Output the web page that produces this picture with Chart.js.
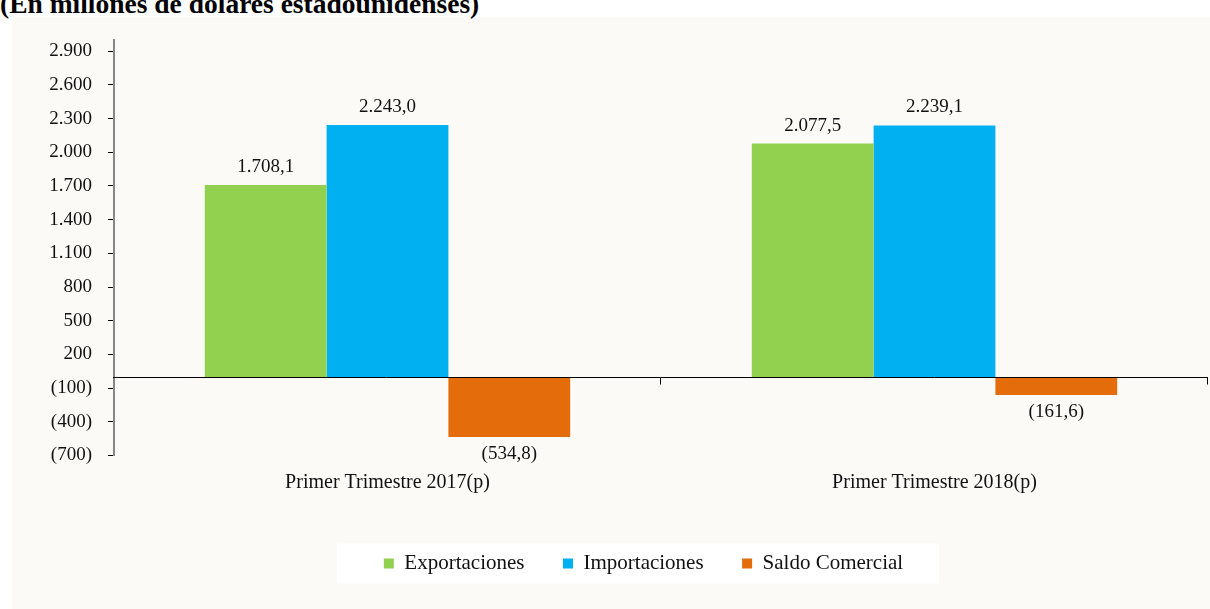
<!DOCTYPE html>
<html>
<head>
<meta charset="utf-8">
<script src="https://cdn.jsdelivr.net/npm/chart.js@4.4.1/dist/chart.umd.min.js"></script>
<style>
  html, body { margin: 0; padding: 0; background: #fff; overflow: hidden; }
  #wrap { position: relative; width: 1210px; height: 609px; }
  #bg { position: absolute; left: 12px; top: 17px; right: 0; bottom: 0; background: #fbfaf7; }
  #title { position: absolute; left: 0; top: -10px; font: bold 27.5px "Liberation Serif", serif; line-height: 27px; color: #000; white-space: nowrap; }
  #chart { position: absolute; left: 0; top: 0; }
</style>
</head>
<body>
<div id="wrap">
  <div id="bg"></div>
  <div id="title">(En millones de dólares estadounidenses)</div>
  <canvas id="chart" width="1210" height="609"></canvas>
</div>
<script>
// datos (millones de USD)
const categories = ['Primer Trimestre 2017(p)', 'Primer Trimestre 2018(p)'];
const exportaciones = [1708.1, 2077.5];
const importaciones = [2243.0, 2239.1];
const saldoComercial = [-534.8, -161.6];
const yTicks = [-700, -400, -100, 200, 500, 800, 1100, 1400, 1700, 2000, 2300, 2600, 2900];
const yMin = -700;
const yMax = 3000;

const serif = '"Liberation Serif", "Times New Roman", serif';

// formato español: 1.234,5 y negativos entre paréntesis
function fmt(v, dec) {
    const parts = Math.abs(v).toFixed(dec).split('.');
    let s = parts[0].replace(/\B(?=(\d{3})+(?!\d))/g, '.');
    if (parts[1]) s += ',' + parts[1];
    return v < 0 ? '(' + s + ')' : s;
}

// la leyenda va algo corrida a la derecha, como en el original
const legendShift = {
    id: 'legendShift',
    afterLayout(chart) {
        if (chart.legend) chart.legend.left += 79;
    }
};

// caja blanca de la leyenda
const legendBg = {
    id: 'legendBg',
    beforeDraw(chart) {
        const boxes = chart.legend && chart.legend.legendHitBoxes;
        if (!boxes || !boxes.length) return;
        const first = boxes[0], last = boxes[boxes.length - 1];
        const cy = first.top + first.height / 2;
        const ctx = chart.ctx;
        ctx.save();
        ctx.fillStyle = '#ffffff';
        ctx.fillRect(first.left - 47, cy - 20, (last.left + last.width + 36) - (first.left - 47), 40);
        ctx.restore();
    }
};

// linea del cero con marcas entre categorias
const zeroLine = {
    id: 'zeroLine',
    afterDatasetsDraw(chart) {
        const { ctx, chartArea, scales } = chart;
        const y = Math.round(scales.y.getPixelForValue(0)) + 0.5;
        const n = categories.length;
        const w = (chartArea.right - chartArea.left) / n;
        ctx.save();
        ctx.strokeStyle = '#000';
        ctx.lineWidth = 1;
        ctx.beginPath();
        ctx.moveTo(chartArea.left - 1, y);
        ctx.lineTo(chartArea.right, y);
        for (let i = 1; i <= n; i++) {
            const x = Math.round(chartArea.left + i * w) - 0.5;
            ctx.moveTo(x, y);
            ctx.lineTo(x, y + 7);
        }
        ctx.stroke();
        ctx.restore();
    }
};

// etiquetas de valores
const valueLabels = {
    id: 'valueLabels',
    afterDatasetsDraw(chart) {
        const ctx = chart.ctx;
        ctx.save();
        ctx.font = '19px ' + serif;
        ctx.fillStyle = '#111';
        ctx.textAlign = 'center';
        ctx.textBaseline = 'middle';
        chart.data.datasets.forEach((ds, i) => {
            chart.getDatasetMeta(i).data.forEach((bar, j) => {
                const v = ds.data[j];
                const y = v >= 0 ? bar.y - 18 : bar.y + 17;
                ctx.fillText(fmt(v, 1), bar.x, y);
            });
        });
        ctx.restore();
    }
};

const ctx = document.getElementById('chart');
new Chart(ctx, {
    type: 'bar',
    data: {
        labels: categories,
        datasets: [
            { label: 'Exportaciones', data: exportaciones, backgroundColor: '#92d050' },
            { label: 'Importaciones', data: importaciones, backgroundColor: '#00b0f0' },
            { label: 'Saldo Comercial', data: saldoComercial, backgroundColor: '#e46c0a' }
        ]
    },
    options: {
        responsive: false,
        animation: false,
        devicePixelRatio: 1,
        layout: { padding: { left: 0, right: 2, top: 40, bottom: 25 } },
        datasets: {
            bar: { categoryPercentage: 0.668, barPercentage: 1.0, borderWidth: 0 }
        },
        plugins: {
            legend: {
                position: 'bottom',
                labels: {
                    boxWidth: 10,
                    boxHeight: 10,
                    padding: 38.5,
                    color: '#111',
                    font: { family: serif, size: 21 }
                }
            },
            tooltip: { enabled: false }
        },
        scales: {
            x: {
                grid: { display: false, drawTicks: false },
                border: { display: false },
                ticks: {
                    padding: 15,
                    color: '#111',
                    font: { family: serif, size: 20 }
                },
                afterFit(scale) { scale.height = 59; }
            },
            y: {
                min: yMin,
                max: yMax,
                grid: { drawOnChartArea: false, drawTicks: true, tickLength: 6, color: '#000' },
                border: { color: '#868686', width: 2 },
                ticks: {
                    padding: 16,
                    color: '#111',
                    font: { family: serif, size: 19 },
                    callback: (v) => fmt(v, 0)
                },
                afterBuildTicks(scale) { scale.ticks = yTicks.map(v => ({ value: v })); },
                afterFit(scale) { scale.width = 114; }
            }
        }
    },
    plugins: [legendShift, legendBg, zeroLine, valueLabels]
});
</script>
</body>
</html>
